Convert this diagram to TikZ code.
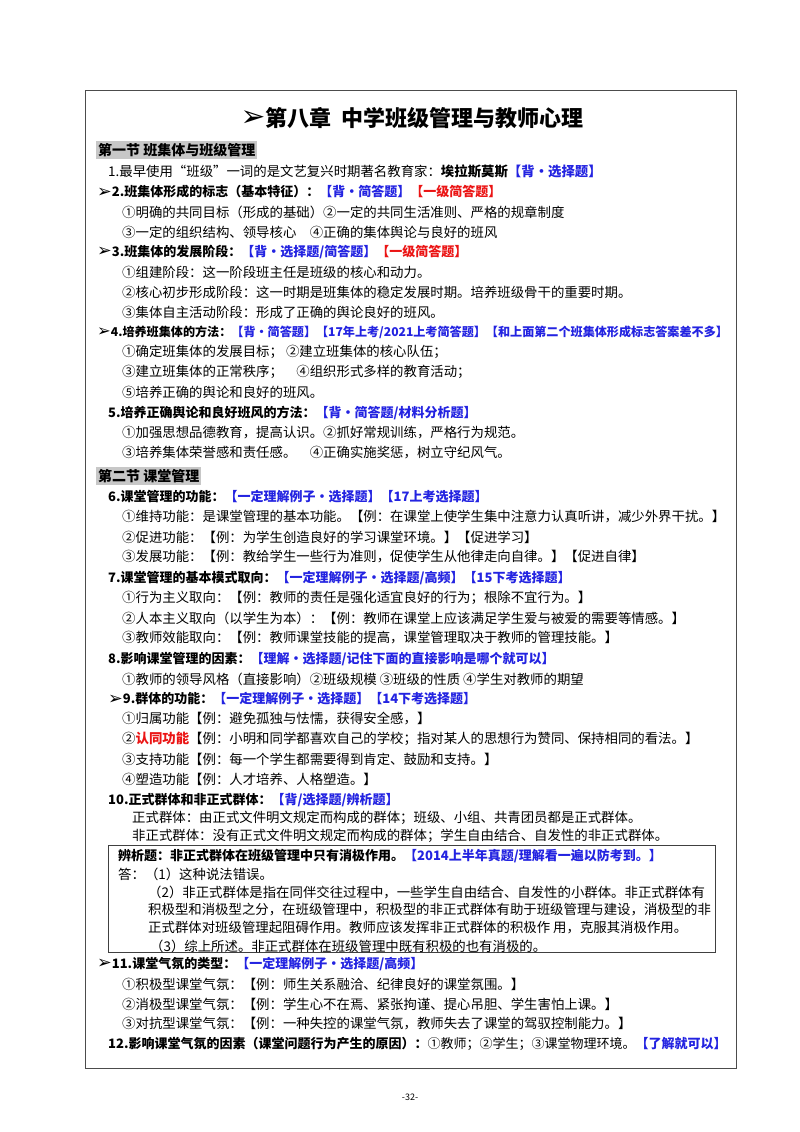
\documentclass[tikz,border=0pt]{standalone}
\usepackage{fontspec}
\setmainfont{Noto Sans CJK SC}
\newfontfamily\arrfont{DejaVu Sans}
\definecolor{tagblue}{RGB}{35,35,225}
\definecolor{tagred}{RGB}{235,20,20}
\newcommand{\arr}{\raisebox{-0.5pt}{\scalebox{1.35}{\arrfont\char"27A2}}}
\newcommand{\tagb}[1]{\textcolor{tagblue}{\bfseries #1}}
\newcommand{\tagr}[1]{\textcolor{tagred}{\bfseries #1}}
\tikzset{
  txt/.style={anchor=west, inner sep=0pt, font=\fontsize{13.4}{15}\selectfont},
  head/.style={txt, font=\fontsize{13}{15}\selectfont\bfseries},
  sect/.style={anchor=west, inner sep=2pt, fill=black!22, font=\fontsize{14}{16}\selectfont\bfseries}
}
\begin{document}
\begin{tikzpicture}[x=1pt, y=-1pt]
            \useasboundingbox (0, 0) rectangle (800, 1132);
            \fill [white] (0, 0) rectangle (800, 1132);
            \draw [black!70, thick] (85, 90) rectangle (736, 1068);
            \node [font=\fontsize{22}{24}\selectfont\bfseries] (title) at (412, 118) {\arr 第八章\ \ 中学班级管理与教师心理};
            % first section
            \node [sect] (s1) at (96, 150) {第一节\ 班集体与班级管理};
            \node [txt] (l1) at (108, 171) {1.最早使用“班级”一词的是文艺复兴时期著名教育家：\textbf{埃拉斯莫斯}\tagb{【背•选择题】}};
            \node [head] (l2) at (97, 192) {\arr 2.班集体形成的标志（基本特征）：\tagb{【背•简答题】}\tagr{【一级简答题】}};
            \node [txt] (l2a) at (122, 212) {①明确的共同目标（形成的基础）②一定的共同生活准则、严格的规章制度};
            \node [txt] (l2b) at (122, 232) {③一定的组织结构、领导核心\quad ④正确的集体舆论与良好的班风};
            \node [head] (l3) at (97, 252) {\arr 3.班集体的发展阶段：\tagb{【背•选择题/简答题】}\tagr{【一级简答题】}};
            \node [txt] (l3a) at (122, 272) {①组建阶段：这一阶段班主任是班级的核心和动力。};
            \node [txt] (l3b) at (122, 292) {②核心初步形成阶段：这一时期是班集体的稳定发展时期。培养班级骨干的重要时期。};
            \node [txt] (l3c) at (122, 312) {③集体自主活动阶段：形成了正确的舆论良好的班风。};
            \node [head, font=\fontsize{12.1}{14}\selectfont\bfseries] (l4) at (97, 332) {\arr 4.培养班集体的方法：\tagb{【背•简答题】【17年上考/2021上考简答题】【和上面第二个班集体形成标志答案差不多】}};
            \node [txt] (l4a) at (122, 352) {①确定班集体的发展目标；\ ②建立班集体的核心队伍；};
            \node [txt] (l4b) at (122, 372) {③建立班集体的正常秩序；\quad ④组织形式多样的教育活动；};
            \node [txt] (l4c) at (122, 392) {⑤培养正确的舆论和良好的班风。};
            \node [head] (l5) at (108, 413) {5.培养正确舆论和良好班风的方法：\tagb{【背•简答题/材料分析题】}};
            \node [txt] (l5a) at (122, 433) {①加强思想品德教育，提高认识。②抓好常规训练，严格行为规范。};
            \node [txt] (l5b) at (122, 453) {③培养集体荣誉感和责任感。\quad ④正确实施奖惩，树立守纪风气。};
            % second section
            \node [sect] (s2) at (96, 476) {第二节\ 课堂管理};
            \node [head] (l6) at (108, 497) {6.课堂管理的功能：\tagb{【一定理解例子•选择题】【17上考选择题】}};
            \node [txt] (l6a) at (122, 517) {①维持功能：是课堂管理的基本功能。【例：在课堂上使学生集中注意力认真听讲，减少外界干扰。】};
            \node [txt] (l6b) at (122, 537) {②促进功能：【例：为学生创造良好的学习课堂环境。】【促进学习】};
            \node [txt] (l6c) at (122, 557) {③发展功能：【例：教给学生一些行为准则，促使学生从他律走向自律。】【促进自律】};
            \node [head] (l7) at (108, 578) {7.课堂管理的基本模式取向：\tagb{【一定理解例子•选择题/高频】【15下考选择题】}};
            \node [txt] (l7a) at (122, 598) {①行为主义取向：【例：教师的责任是强化适宜良好的行为；根除不宜行为。】};
            \node [txt] (l7b) at (122, 618) {②人本主义取向（以学生为本）：【例：教师在课堂上应该满足学生爱与被爱的需要等情感。】};
            \node [txt] (l7c) at (122, 638) {③教师效能取向：【例：教师课堂技能的提高，课堂管理取决于教师的管理技能。】};
            \node [head] (l8) at (108, 659) {8.影响课堂管理的因素：\tagb{【理解•选择题/记住下面的直接影响是哪个就可以】}};
            \node [txt] (l8a) at (122, 679) {①教师的领导风格（直接影响）②班级规模 ③班级的性质 ④学生对教师的期望};
            \node [head] (l9) at (108, 699) {\arr 9.群体的功能：\tagb{【一定理解例子•选择题】【14下考选择题】}};
            \node [txt] (l9a) at (122, 719) {①归属功能【例：避免孤独与怯懦，获得安全感，】};
            \node [txt] (l9b) at (122, 739) {②\tagr{认同功能}【例：小明和同学都喜欢自己的学校；指对某人的思想行为赞同、保持相同的看法。】};
            \node [txt] (l9c) at (122, 759) {③支持功能【例：每一个学生都需要得到肯定、鼓励和支持。】};
            \node [txt] (l9d) at (122, 779) {④塑造功能【例：人才培养、人格塑造。】};
            \node [head] (l10) at (108, 800) {10.正式群体和非正式群体：\tagb{【背/选择题/辨析题】}};
            \node [txt] (l10a) at (132, 818) {正式群体：由正式文件明文规定而构成的群体；班级、小组、共青团员都是正式群体。};
            \node [txt] (l10b) at (132, 836) {非正式群体：没有正式文件明文规定而构成的群体；学生自由结合、自发性的非正式群体。};
            % discussion box
            \draw [black!75, thick] (108, 845) rectangle (715, 952);
            \node [head] (q) at (118, 856) {辨析题：非正式群体在班级管理中只有消极作用。\tagb{【2014上半年真题/理解看一遍以防考到。】}};
            \node [txt] (a1) at (118, 874) {答：（1）这种说法错误。};
            \node [txt] (a2) at (148, 892) {（2）非正式群体是指在同伴交往过程中，一些学生自由结合、自发性的小群体。非正式群体有};
            \node [txt] (a3) at (148, 910) {积极型和消极型之分，在班级管理中，积极型的非正式群体有助于班级管理与建设，消极型的非};
            \node [txt] (a4) at (148, 928) {正式群体对班级管理起阻碍作用。教师应该发挥非正式群体的积极作 用，克服其消极作用。};
            \node [txt] (a5) at (150, 946) {（3）综上所述。非正式群体在班级管理中既有积极的也有消极的。};
            \node [head] (l11) at (97, 964) {\arr 11.课堂气氛的类型：\tagb{【一定理解例子•选择题/高频】}};
            \node [txt] (l11a) at (122, 984) {①积极型课堂气氛：【例：师生关系融洽、纪律良好的课堂氛围。】};
            \node [txt] (l11b) at (122, 1004) {②消极型课堂气氛：【例：学生心不在焉、紧张拘谨、提心吊胆、学生害怕上课。】};
            \node [txt] (l11c) at (122, 1024) {③对抗型课堂气氛：【例：一种失控的课堂气氛，教师失去了课堂的驾驭控制能力。】};
            \node [txt, font=\fontsize{13}{15}\selectfont] (l12) at (108, 1044) {\textbf{12.影响课堂气氛的因素（课堂问题行为产生的原因）：}①教师；②学生；③课堂物理环境。\tagb{【了解就可以】}};
            \node [font=\fontsize{9}{10}\selectfont] (page) at (410, 1097) {-32-};
\end{tikzpicture}
\end{document}
